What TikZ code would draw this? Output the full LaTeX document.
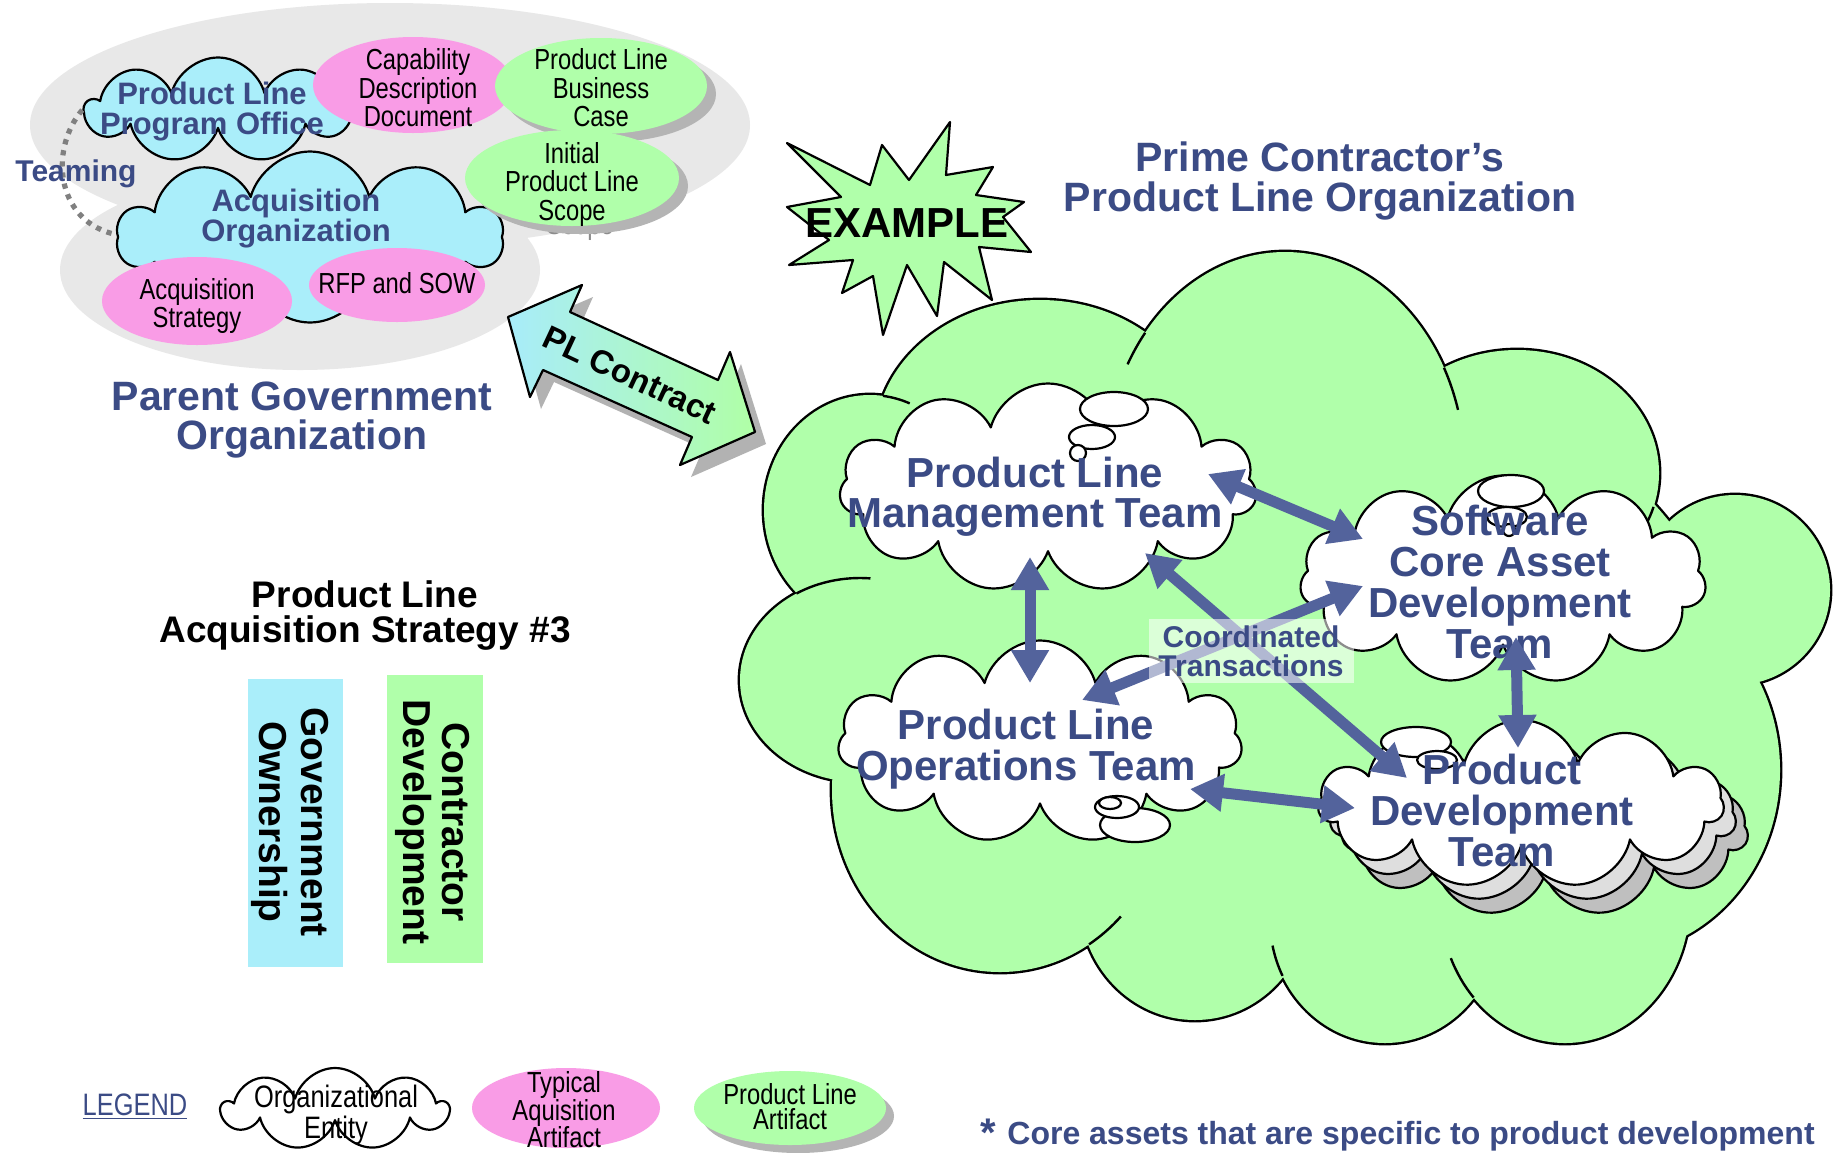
\documentclass[tikz,border=0pt]{standalone}
\usepackage{fontspec}
\setmainfont{Liberation Sans}
\newfontfamily\narrowfont[FakeStretch=0.82]{Liberation Sans}
\usetikzlibrary{shapes.symbols,shapes.geometric,arrows.meta}
\definecolor{tblue}{HTML}{3B4B85}
\definecolor{cblue}{HTML}{AAEEFA}
\definecolor{cpink}{HTML}{F99CE6}
\definecolor{cgreen}{HTML}{B0FFAA}
\definecolor{cgray}{HTML}{E8E8E8}
\definecolor{ablue}{HTML}{53639C}
\definecolor{shgray}{HTML}{B4B4B4}
\definecolor{plcyan}{HTML}{A8ECFA}
\definecolor{plgreen}{HTML}{B0FFA6}
\newcommand{\fsz}[2]{\fontsize{#1pt}{#2pt}\selectfont}
\newcommand{\innerarc}[6]{\draw[line width=1.2pt] ({#1+#3*cos(#5)},{#2+#4*sin(#5)}) arc[start angle=#5,end angle=#6,x radius=#3,y radius=#4];}
\begin{document}
\begin{tikzpicture}[x=0.5pt,y=-0.5pt,line join=round,
  orgcloud/.style={cloud, cloud puffs=#1, cloud ignores aspect, draw=black, line width=1.1pt, inner sep=0pt},
  art/.style={ellipse, inner sep=0pt, draw=none},
  btext/.style={text=tblue, align=center, inner sep=0pt},
  ntext/.style={text=black, align=center, inner sep=0pt},
  bubble/.style={draw=black, fill=white, line width=1.1pt},
  bluearrow/.style={draw=ablue, line width=5.5pt, {Triangle[length=16.5pt,width=18pt]}-{Triangle[length=16.5pt,width=18pt]}}
]
\useasboundingbox (0,0) rectangle (1834,1152);
\fill[white] (0,0) rectangle (1834,1152);

% ---------- Parent government organization (gray blob)
\fill[cgray] (390,125) ellipse [x radius=360, y radius=122];
\fill[cgray] (300,270) ellipse [x radius=240, y radius=100];

\node[orgcloud=9, fill=cblue, minimum width=132.5pt, minimum height=52.5pt] (plpo) at (218,110) {};
\draw[black!50, line width=2.6pt, dash pattern=on 2.6pt off 3pt] (plpo.west) .. controls (48,150) and (55,228) .. (125,236);
\node[orgcloud=10, fill=cblue, minimum width=192.5pt, minimum height=85.5pt] (ao) at (310,237) {};

\node[art, fill=cpink, minimum width=100pt, minimum height=48pt] (cdd) at (413,85) {};
\fill[shgray] (610,94) ellipse [x radius=106, y radius=48];
\node[art, fill=cgreen, minimum width=106pt, minimum height=48pt] (plbc) at (601,86) {};
\node[ntext, text=black!45, font=\narrowfont\fsz{14.5}{14.25}, anchor=base] (ghost) at (580,234) {Scope};
\fill[shgray] (581,186) ellipse [x radius=107, y radius=48];
\node[art, fill=cgreen, minimum width=107pt, minimum height=48pt] (ipls) at (572,178) {};
\node[art, fill=cpink, minimum width=95pt, minimum height=44pt] (as) at (197,301) {};
\node[art, fill=cpink, minimum width=88pt, minimum height=37pt] (rfp) at (397,285) {};

\node[btext, font=\bfseries\fsz{15.5}{15}] (plpoT) at (212,112) {Product Line\\Program Office};
\node[btext, font=\bfseries\fsz{15.5}{15}] (aoT) at (296,219) {Acquisition\\Organization};
\node[btext, font=\bfseries\fsz{15}{15}, anchor=base] (teaming) at (76,181) {Teaming};
\node[ntext, font=\narrowfont\fsz{14.5}{14.25}] (cddT) at (418,88) {Capability\\Description\\Document};
\node[ntext, font=\narrowfont\fsz{14.5}{14.25}] (plbcT) at (601,88) {Product Line\\Business\\Case};
\node[ntext, font=\narrowfont\fsz{14.5}{14.25}] (iplsT) at (572,184) {Initial\\Product Line\\Scope};
\node[ntext, font=\narrowfont\fsz{14.5}{14.25}] (asT) at (197,306) {Acquisition\\Strategy};
\node[ntext, font=\narrowfont\fsz{14.5}{14.25}] (rfpT) at (397,283) {RFP and SOW};
\node[btext, font=\bfseries\fsz{20.5}{19.5}] (pgo) at (302,420) {Parent Government\\Organization};

% ---------- PL Contract arrow
\fill[black!30, shift={(11,12)}] (508,317) -- (582,285) -- (570,312) -- (718,380) -- (730,352) -- (755,432) -- (680,465) -- (692,437) -- (543,370) -- (530,397) -- cycle;
\draw[line width=1.1pt, left color=plcyan, right color=plgreen] (508,317) -- (582,285) -- (570,312) -- (718,380) -- (730,352) -- (755,432) -- (680,465) -- (692,437) -- (543,370) -- (530,397) -- cycle;
\node[ntext, font=\bfseries\fsz{16.5}{16}, rotate=-25] (plc) at (630,375) {PL Contract};

% ---------- EXAMPLE starburst
\draw[line width=1.1pt, fill=cgreen] (787,143) -- (870,185) -- (882,145) -- (909,180) -- (950,122) -- (946,175) -- (993,167) -- (976,195) -- (1024,202) -- (1003,217) -- (1031,252) -- (979,247) -- (992,300) -- (944,262) -- (937,316) -- (907,265) -- (883,335) -- (873,276) -- (842,293) -- (853,260) -- (789,265) -- (829,240) -- (787,207) -- (841,197) -- cycle;
\node[ntext, font=\bfseries\fsz{21}{21}, anchor=base] (example) at (907,237) {EXAMPLE};

\node[btext, font=\bfseries\fsz{20.5}{20}] (prime) at (1320,181) {Prime Contractor’s\\Product Line Organization};

% ---------- Prime contractor green cloud
\foreach \cx/\cy/\rx/\ry in {1040/440/165/140, 1285/470/180/218, 1517/473/142/123, 1735/590/95/95, 1610/770/170/185, 1565/900/125/143, 1385/920/115/123, 1195/900/115/120, 1000/790/168/182, 860/680/120/102, 870/510/106/115, 1300/660/420/290}
  {\draw[line width=2.4pt] (\cx,\cy) ellipse [x radius=\rx, y radius=\ry];}
\foreach \cx/\cy/\rx/\ry in {1040/440/165/140, 1285/470/180/218, 1517/473/142/123, 1735/590/95/95, 1610/770/170/185, 1565/900/125/143, 1385/920/115/123, 1195/900/115/120, 1000/790/168/182, 860/680/120/102, 870/510/106/115, 1300/660/420/290}
  {\fill[cgreen] (\cx,\cy) ellipse [x radius=\rx, y radius=\ry];}
\innerarc{1285}{470}{180}{218}{219}{209}
\innerarc{1285}{470}{180}{218}{332}{344}
\innerarc{870}{510}{106}{115}{277}{292}
\innerarc{1517}{473}{142}{123}{16}{27}
\innerarc{860}{680}{120}{102}{238}{275}
\innerarc{1000}{790}{168}{182}{58}{44}
\innerarc{1385}{920}{115}{123}{153}{168}
\innerarc{1565}{900}{125}{143}{137}{156}

% ---------- team clouds
\node[orgcloud=11, fill=black!25, minimum width=202.5pt, minimum height=84pt] (pdtS2) at (1545,832) {};
\node[orgcloud=11, fill=black!13, minimum width=202.5pt, minimum height=84pt] (pdtS1) at (1533,818) {};
\node[orgcloud=11, fill=white, minimum width=202.5pt, minimum height=84pt] (pdt) at (1521,804) {};
\node[orgcloud=11, fill=white, minimum width=208.5pt, minimum height=104.5pt] (plmt) at (1048,488) {};
\node[orgcloud=11, fill=white, minimum width=203pt, minimum height=104.5pt] (scadt) at (1503,580) {};
\node[orgcloud=11, fill=white, minimum width=202pt, minimum height=101.5pt] (plot) at (1040,742) {};

\draw[bubble] (1114,409) ellipse [x radius=34, y radius=17];
\draw[bubble] (1092,437) ellipse [x radius=23, y radius=12];
\draw[bubble] (1078,453) ellipse [x radius=8, y radius=8];
\draw[bubble] (1511,491) ellipse [x radius=33, y radius=16];
\draw[bubble] (1507,517) ellipse [x radius=20, y radius=10];
\draw[bubble] (1509,530) ellipse [x radius=6, y radius=6];
\draw[bubble] (1135,825) ellipse [x radius=35, y radius=17];
\draw[bubble] (1117,807) ellipse [x radius=22, y radius=11];
\draw[bubble] (1110,803) ellipse [x radius=11, y radius=6];
\draw[bubble] (1416,742) ellipse [x radius=35, y radius=15];
\draw[bubble] (1437,760) ellipse [x radius=20, y radius=9];

\node[btext, font=\bfseries\fsz{21}{20}] (plmtT) at (1035,497) {Product Line\\Management Team};
\node[btext, font=\bfseries\fsz{21}{20.5}] (scadtT) at (1500,582) {Software\\Core Asset\\Development\\Team};
\node[btext, font=\bfseries\fsz{21}{20.5}] (plotT) at (1026,749) {Product Line\\Operations Team};
\node[btext, font=\bfseries\fsz{21}{20.5}] (pdtT) at (1502,810) {Product\\Development\\Team};

% ---------- coordinated transactions
\coordinate (a1) at (1208,474); \coordinate (a2) at (1363,539);
\coordinate (b1) at (1030,557); \coordinate (b2) at (1030,683);
\coordinate (c1) at (1145,553); \coordinate (c2) at (1407,778);
\coordinate (d1) at (1363,586); \coordinate (d2) at (1082,700);
\coordinate (e1) at (1516,637); \coordinate (e2) at (1518,748);
\coordinate (f1) at (1190,789); \coordinate (f2) at (1355,808);
\draw[bluearrow] (a1) -- (a2);
\draw[bluearrow] (b1) -- (b2);
\draw[bluearrow] (c1) -- (c2);
\draw[bluearrow] (d1) -- (d2);
\draw[bluearrow] (e1) -- (e2);
\draw[bluearrow] (f1) -- (f2);
\node[btext, font=\bfseries\fsz{15}{14.5}, fill=white, fill opacity=0.55, text opacity=1, minimum width=102.5pt, minimum height=32pt] (ct) at (1251,651) {Coordinated\\Transactions};

% ---------- acquisition strategy
\node[ntext, font=\bfseries\fsz{18.5}{17.5}] (pls) at (365,616) {Product Line\\Acquisition Strategy \#3};
\node[fill=cblue, inner sep=0pt, minimum width=47.5pt, minimum height=144pt] (govbox) at (295.5,823) {};
\node[fill=cgreen, inner sep=0pt, minimum width=48pt, minimum height=144pt] (conbox) at (435,819) {};
\node[ntext, font=\bfseries\fsz{19.5}{21}, rotate=-90] (govT) at (290.5,822) {Government\\Ownership};
\node[ntext, font=\bfseries\fsz{19.5}{19.5}, rotate=-90] (conT) at (433,822) {Contractor\\Development};

% ---------- legend
\node[btext, font=\narrowfont\fsz{15.5}{15}, anchor=base] (legend) at (135,1115) {\underline{LEGEND}};
\node[orgcloud=9, fill=white, minimum width=112.5pt, minimum height=41pt] (lcloud) at (335,1109) {};
\node[ntext, font=\narrowfont\fsz{15.5}{14}] (lcloudT) at (336,1115) {Organizational\\Entity};
\node[art, fill=cpink, minimum width=94pt, minimum height=40pt] (lpink) at (566,1108) {};
\node[ntext, font=\narrowfont\fsz{14.5}{13.75}] (lpinkT) at (564,1110) {Typical\\Aquisition\\Artifact};
\fill[shgray] (798,1116) ellipse [x radius=96, y radius=37];
\node[art, fill=cgreen, minimum width=96pt, minimum height=37pt] (lgreen) at (790,1108) {};
\node[ntext, font=\narrowfont\fsz{14.5}{12.5}] (lgreenT) at (790,1107) {Product Line\\Artifact};
\node[btext, font=\bfseries\fsz{20}{20}, anchor=base west] (star) at (980,1146) {*};
\node[btext, font=\bfseries\fsz{16}{16}, anchor=base west] (core) at (1007,1144) {Core assets that are specific to product development};
\end{tikzpicture}
\end{document}
